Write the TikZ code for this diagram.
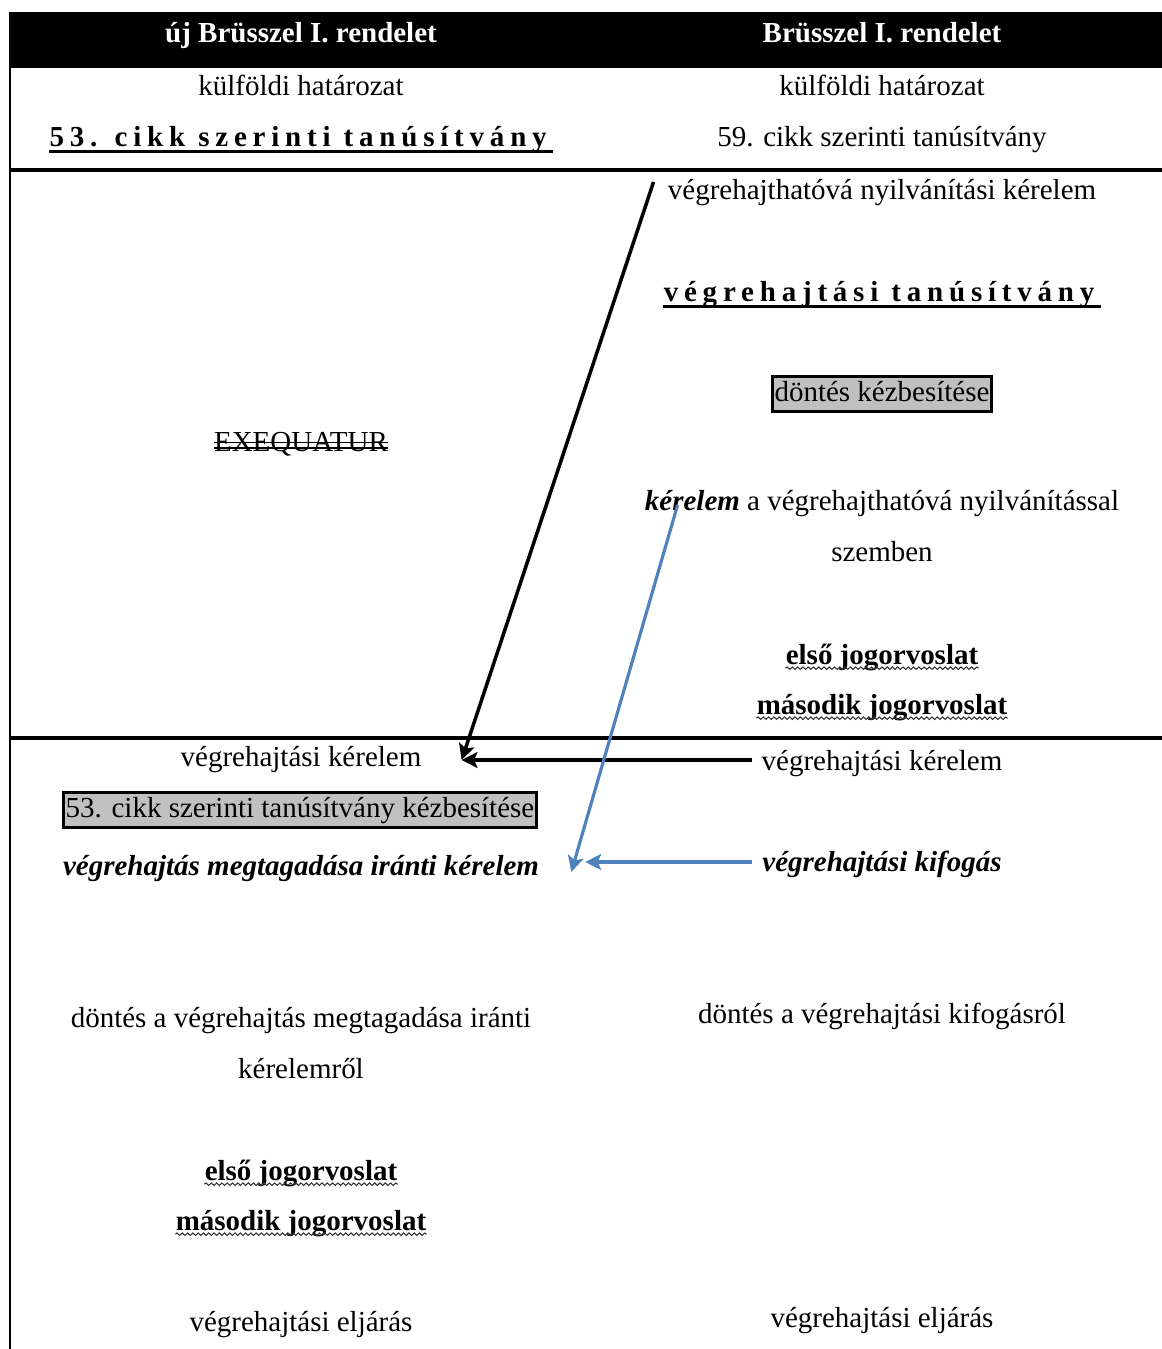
\documentclass[tikz,border=0pt]{standalone}
\usepackage{fontspec}
\setmainfont{Liberation Serif}
\usepackage{tikz}
\usetikzlibrary{arrows.meta, calc, decorations.pathmorphing}
\definecolor{boxgray}{RGB}{192,192,192}
\definecolor{arrowblue}{RGB}{79,129,189}
\tikzset{
  txt/.style={inner sep=0pt, text height=12pt, text depth=1pt},
  graybox/.style={inner sep=0pt, text height=12pt, text depth=4pt, draw=black, line width=1.7pt, fill=boxgray, inner xsep=1.1pt, inner ysep=1.9pt},
  tablerule/.style={line width=2pt},
  ulrule/.style={line width=1.7pt},
  wavyrule/.style={line width=0.6pt, draw=black!80, decorate, decoration={snake, amplitude=0.7pt, segment length=3pt}},
  strikerule/.style={line width=0.9pt},
  blackarrow/.style={line width=2pt, -{Stealth[length=9pt, width=9pt, inset=2pt]}},
  bluearrow/.style={draw=arrowblue, line width=1.8pt, -{Stealth[length=9pt, width=9pt, inset=2pt]}}
}
\newcommand{\spaced}[1]{{\addfontfeature{LetterSpace=20}#1}}

\begin{document}
\begin{tikzpicture}[x=0.02cm, y=-0.02cm, font=\fontsize{16.5}{20}\selectfont]
\useasboundingbox (0,0) rectangle (1162,1349);
\fill (10,12) rectangle (1162,68);
\draw[line width=1.7pt] (10,12) -- (10,1349);
\draw[tablerule] (10,170) -- (1162,170);
\draw[tablerule] (10,738) -- (1162,738);

\node[txt, text=white] (hdrL) at (301,33) {\textbf{új Brüsszel I. rendelet}};
\node[txt, text=white] (hdrR) at (882,33) {\textbf{Brüsszel I. rendelet}};
\node[txt] (kfL) at (301,86) {külföldi határozat};
\node[txt] (kfR) at (882,86) {külföldi határozat};
\node[txt] (c53) at (301,137) {\textbf{\spaced{53. cikk szerinti tanúsítvány}}};
\node[txt] (c59) at (882,137) {59. cikk szerinti tanúsítvány};

\node[txt] (vnk) at (882,190) {végrehajthatóvá nyilvánítási kérelem};
\node[txt] (vt) at (882,292) {\textbf{\spaced{végrehajtási tanúsítvány}}};
\node[graybox] (dk) at (882,394) {döntés kézbesítése};
\node[txt] (exq) at (301,442) {EXEQUATUR};
\node[txt] (kvn) at (882,501) {\textbf{\textit{kérelem}} a végrehajthatóvá nyilvánítással};
\node[txt] (szemben) at (882,552) {szemben};
\node[txt] (ej1R) at (882,655) {\textbf{első jogorvoslat}};
\node[txt] (ej2R) at (882,705) {\textbf{második jogorvoslat}};

\node[txt] (vkL) at (301,757) {végrehajtási kérelem};
\node[txt] (vkR) at (882,761) {végrehajtási kérelem};
\node[graybox] (c53k) at (300,810) {53. cikk szerinti tanúsítvány kézbesítése};
\node[txt] (vmk) at (301,866) {\textbf{\textit{végrehajtás megtagadása iránti kérelem}}};
\node[txt] (vkf) at (882,862) {\textbf{\textit{végrehajtási kifogás}}};
\node[txt] (dvm1) at (301,1018) {döntés a végrehajtás megtagadása iránti};
\node[txt] (dvm2) at (301,1069) {kérelemről};
\node[txt] (dvk) at (882,1014) {döntés a végrehajtási kifogásról};
\node[txt] (ej1L) at (301,1171) {\textbf{első jogorvoslat}};
\node[txt] (ej2L) at (301,1221) {\textbf{második jogorvoslat}};
\node[txt] (veL) at (301,1322) {végrehajtási eljárás};
\node[txt] (veR) at (882,1318) {végrehajtási eljárás};

\draw[ulrule] ([yshift=-2.5pt]c53.base west) -- ([yshift=-2.5pt]c53.base east);
\draw[ulrule] ([yshift=-2.5pt]vt.base west) -- ([yshift=-2.5pt]vt.base east);
\draw[strikerule] ([yshift=5.3pt]exq.base west) -- ([yshift=5.3pt]exq.base east);
\draw[strikerule] ([yshift=2.2pt]exq.base west) -- ([yshift=2.2pt]exq.base east);
\foreach \j in {ej1R, ej2R, ej1L, ej2L}
  \draw[wavyrule] ([yshift=-2pt]\j.base west) -- ([yshift=-2pt]\j.base east);

\coordinate (vkin) at ([shift={(40,3)}]vkL.east);
\coordinate (vnkout) at ([shift={(-14,-8)}]vnk.west);
\draw[blackarrow] (vnkout) -- (vkin);
\draw[blackarrow] ([shift={(-9,-1)}]vkR.west) -- (vkin);
\coordinate (kvnout) at ([shift={(33,4)}]kvn.west);
\coordinate (vmkin) at ([shift={(32,6)}]vmk.east);
\draw[bluearrow] (kvnout) -- (vmkin);
\draw[bluearrow] ([shift={(-10,0)}]vkf.west) -- ([shift={(46,-4)}]vmk.east);
\end{tikzpicture}
\end{document}
